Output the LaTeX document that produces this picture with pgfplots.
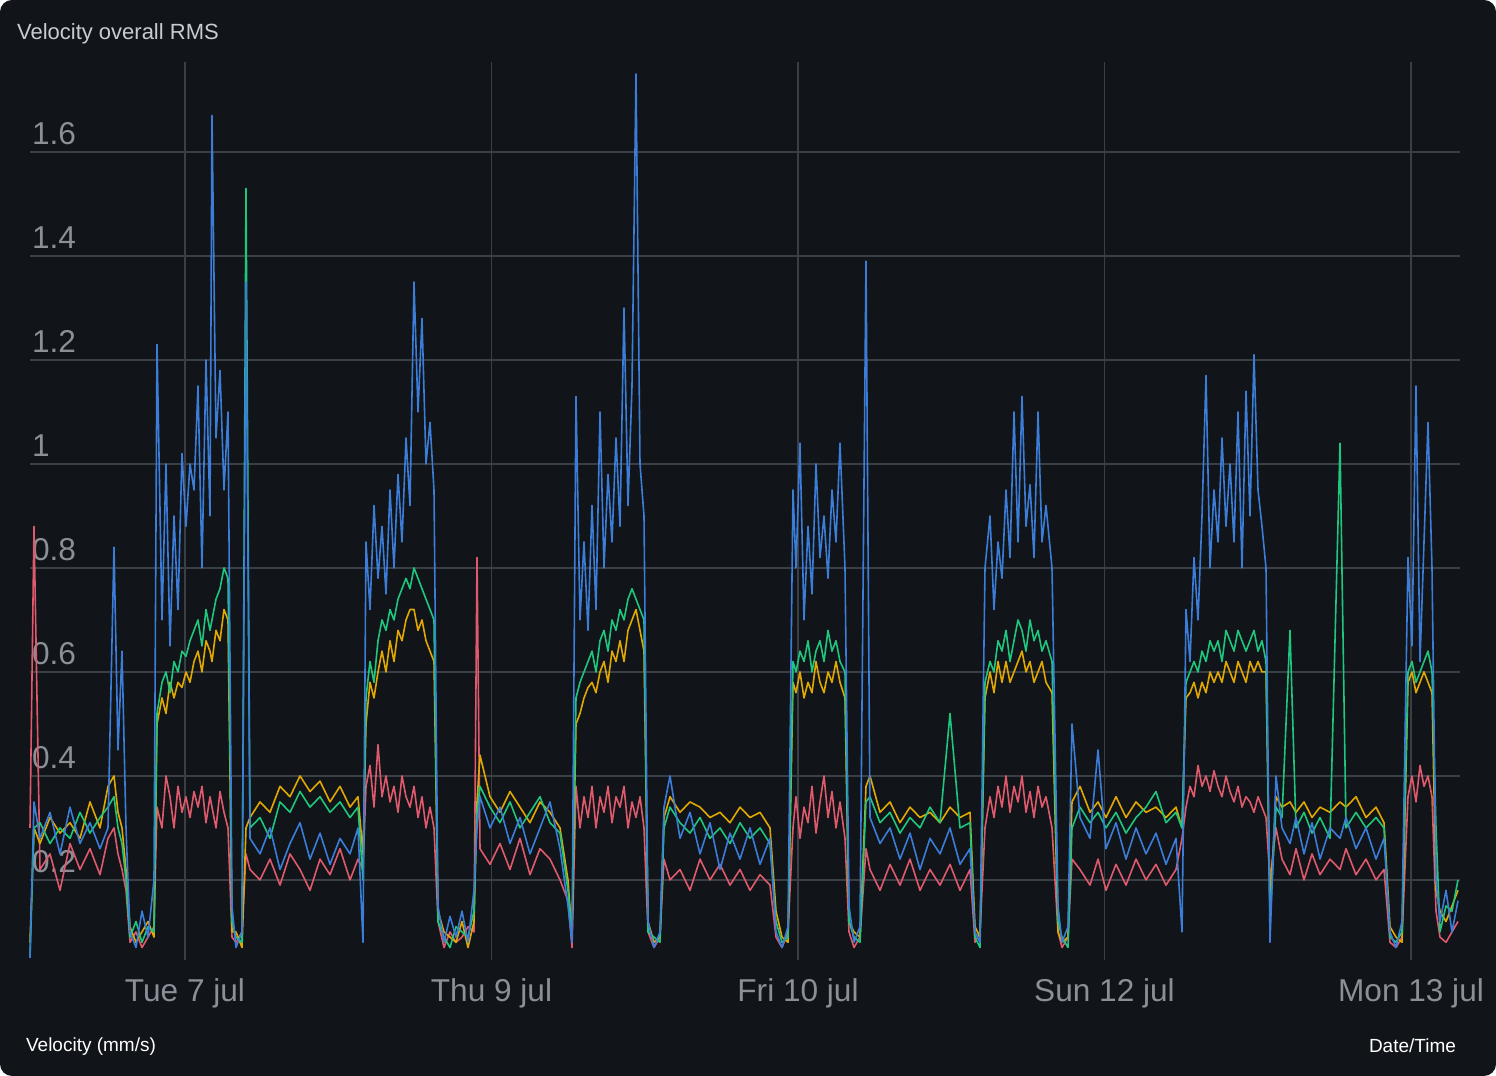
\documentclass[border=0pt]{standalone}
\usepackage{pgfplots}
\pgfplotsset{compat=1.18}
\usepackage{pgfplotstable}
\usepackage{fontspec}
\setmainfont{Liberation Sans}
\definecolor{bg}{HTML}{111418}
\definecolor{gridc}{HTML}{3A3E45}
\definecolor{tickc}{HTML}{8A8F98}
\definecolor{cblue}{HTML}{3B7DD8}
\definecolor{cgreen}{HTML}{1FC77E}
\definecolor{cyellow}{HTML}{E0A800}
\definecolor{cred}{HTML}{E05A6E}
\pgfplotstableread{
x b g yl r
30 0.05 0.05 0.08 0.30
34 0.35 0.30 0.30 0.88
40 0.28 0.31 0.27 0.22
50 0.33 0.27 0.32 0.25
60 0.25 0.30 0.29 0.18
70 0.34 0.28 0.31 0.27
80 0.27 0.33 0.28 0.22
90 0.31 0.29 0.35 0.26
100 0.26 0.32 0.30 0.21
108 0.30 0.34 0.38 0.28
114 0.84 0.36 0.40 0.30
118 0.45 0.30 0.33 0.25
122 0.64 0.27 0.30 0.22
126 0.30 0.20 0.22 0.18
130 0.10 0.09 0.11 0.08
136 0.07 0.12 0.08 0.10
142 0.14 0.08 0.10 0.07
148 0.09 0.11 0.12 0.09
154 0.20 0.10 0.09 0.11
157 1.23 0.52 0.50 0.34
162 0.70 0.58 0.55 0.30
166 1.00 0.60 0.52 0.40
170 0.65 0.56 0.58 0.36
174 0.90 0.62 0.55 0.30
178 0.72 0.60 0.58 0.38
182 1.02 0.64 0.57 0.33
186 0.88 0.63 0.60 0.36
190 1.00 0.66 0.58 0.32
194 0.95 0.68 0.62 0.37
198 1.15 0.70 0.64 0.34
202 0.80 0.65 0.60 0.38
206 1.20 0.72 0.66 0.31
210 0.90 0.68 0.64 0.36
212 1.67 0.70 0.62 0.34
216 1.05 0.74 0.68 0.30
220 1.18 0.76 0.66 0.37
224 0.95 0.80 0.72 0.33
228 1.10 0.78 0.70 0.30
232 0.15 0.12 0.10 0.09
236 0.07 0.09 0.10 0.08
242 0.10 0.08 0.07 0.10
246 1.35 1.53 0.30 0.25
250 0.28 0.30 0.32 0.22
260 0.25 0.32 0.35 0.20
270 0.30 0.28 0.33 0.24
280 0.22 0.35 0.38 0.19
290 0.27 0.33 0.36 0.25
300 0.31 0.37 0.40 0.22
310 0.24 0.34 0.37 0.18
320 0.29 0.36 0.39 0.24
330 0.23 0.33 0.35 0.21
340 0.28 0.35 0.38 0.26
350 0.25 0.32 0.34 0.20
358 0.30 0.34 0.36 0.24
363 0.08 0.20 0.25 0.22
366 0.85 0.55 0.50 0.38
370 0.72 0.62 0.58 0.42
374 0.92 0.58 0.55 0.34
378 0.78 0.66 0.60 0.46
382 0.88 0.70 0.64 0.36
386 0.75 0.68 0.60 0.40
390 0.95 0.72 0.66 0.35
394 0.80 0.70 0.62 0.38
398 0.98 0.74 0.68 0.33
402 0.85 0.76 0.66 0.40
406 1.05 0.78 0.70 0.36
410 0.92 0.76 0.72 0.34
414 1.35 0.80 0.72 0.38
418 1.10 0.78 0.68 0.32
422 1.28 0.76 0.70 0.36
426 1.00 0.74 0.66 0.30
430 1.08 0.72 0.64 0.34
434 0.95 0.70 0.62 0.30
438 0.15 0.12 0.14 0.12
444 0.08 0.09 0.10 0.07
450 0.13 0.07 0.09 0.10
456 0.09 0.11 0.08 0.08
462 0.14 0.10 0.12 0.09
468 0.08 0.09 0.07 0.11
474 0.18 0.14 0.12 0.10
477 0.30 0.33 0.35 0.82
480 0.36 0.38 0.44 0.26
490 0.30 0.34 0.36 0.23
500 0.34 0.31 0.33 0.27
510 0.27 0.35 0.37 0.22
520 0.32 0.30 0.34 0.28
530 0.25 0.33 0.31 0.21
540 0.30 0.36 0.35 0.26
550 0.35 0.31 0.33 0.24
560 0.26 0.29 0.30 0.20
568 0.15 0.18 0.20 0.16
572 0.08 0.10 0.09 0.07
576 1.13 0.55 0.50 0.38
580 0.70 0.58 0.52 0.30
584 0.85 0.60 0.55 0.36
588 0.68 0.62 0.57 0.32
592 0.92 0.64 0.58 0.38
596 0.72 0.60 0.56 0.30
600 1.10 0.66 0.60 0.36
604 0.80 0.68 0.62 0.33
608 0.98 0.64 0.58 0.38
612 0.85 0.70 0.64 0.31
616 1.05 0.68 0.62 0.36
620 0.88 0.72 0.66 0.34
624 1.30 0.70 0.62 0.38
628 0.92 0.74 0.68 0.30
632 1.15 0.76 0.70 0.35
636 1.75 0.74 0.72 0.32
640 1.00 0.72 0.68 0.36
644 0.90 0.70 0.64 0.30
648 0.12 0.10 0.12 0.10
654 0.07 0.09 0.08 0.07
660 0.10 0.08 0.09 0.09
664 0.34 0.30 0.32 0.24
670 0.40 0.34 0.36 0.20
680 0.28 0.31 0.33 0.22
690 0.33 0.29 0.35 0.18
700 0.25 0.32 0.34 0.24
710 0.31 0.28 0.32 0.20
720 0.22 0.30 0.33 0.23
730 0.29 0.27 0.31 0.19
740 0.24 0.31 0.34 0.22
750 0.30 0.28 0.32 0.18
760 0.23 0.30 0.33 0.21
770 0.28 0.27 0.30 0.19
776 0.10 0.12 0.14 0.09
782 0.07 0.08 0.09 0.07
788 0.11 0.09 0.08 0.10
793 0.95 0.62 0.58 0.30
796 0.80 0.60 0.56 0.36
800 1.04 0.64 0.60 0.28
804 0.70 0.62 0.55 0.34
808 0.88 0.66 0.58 0.31
812 0.75 0.60 0.56 0.38
816 1.00 0.64 0.62 0.29
820 0.82 0.66 0.58 0.35
824 0.90 0.62 0.56 0.40
828 0.78 0.68 0.60 0.32
832 0.95 0.64 0.58 0.37
836 0.85 0.66 0.62 0.30
840 1.04 0.62 0.58 0.35
845 0.80 0.60 0.55 0.28
849 0.15 0.12 0.12 0.10
854 0.08 0.09 0.10 0.07
860 0.11 0.08 0.09 0.09
866 1.39 0.35 0.38 0.26
870 0.32 0.36 0.40 0.22
880 0.27 0.31 0.33 0.18
890 0.30 0.33 0.35 0.23
900 0.24 0.29 0.31 0.19
910 0.29 0.32 0.34 0.24
920 0.22 0.30 0.32 0.18
930 0.28 0.34 0.33 0.22
940 0.25 0.31 0.31 0.19
950 0.30 0.52 0.34 0.23
960 0.23 0.30 0.32 0.18
970 0.26 0.31 0.33 0.22
975 0.10 0.09 0.11 0.08
980 0.08 0.07 0.09 0.10
985 0.80 0.58 0.55 0.30
990 0.90 0.62 0.60 0.36
994 0.72 0.60 0.56 0.32
998 0.85 0.66 0.62 0.38
1002 0.78 0.64 0.58 0.34
1006 0.95 0.68 0.62 0.40
1010 0.82 0.62 0.58 0.33
1014 1.10 0.66 0.60 0.38
1018 0.85 0.70 0.62 0.35
1022 1.13 0.68 0.64 0.40
1026 0.88 0.64 0.60 0.33
1030 0.96 0.70 0.62 0.37
1034 0.82 0.66 0.58 0.32
1038 1.10 0.68 0.60 0.38
1042 0.85 0.64 0.62 0.34
1046 0.92 0.66 0.58 0.36
1052 0.80 0.62 0.56 0.30
1058 0.15 0.12 0.10 0.10
1062 0.08 0.09 0.08 0.07
1068 0.11 0.07 0.09 0.09
1072 0.50 0.30 0.35 0.24
1080 0.32 0.34 0.38 0.22
1090 0.28 0.31 0.33 0.19
1098 0.45 0.33 0.35 0.24
1106 0.26 0.30 0.32 0.18
1116 0.31 0.33 0.36 0.23
1126 0.24 0.29 0.32 0.19
1136 0.30 0.32 0.35 0.24
1146 0.25 0.34 0.33 0.20
1156 0.29 0.37 0.34 0.23
1166 0.23 0.31 0.32 0.19
1176 0.28 0.33 0.34 0.22
1182 0.10 0.30 0.30 0.28
1186 0.72 0.58 0.55 0.34
1190 0.62 0.60 0.56 0.38
1194 0.82 0.62 0.58 0.36
1198 0.70 0.60 0.55 0.42
1202 0.90 0.64 0.58 0.38
1206 1.17 0.62 0.56 0.40
1210 0.80 0.66 0.60 0.37
1214 0.95 0.64 0.58 0.41
1218 0.85 0.66 0.60 0.38
1222 1.05 0.62 0.58 0.36
1226 0.88 0.68 0.62 0.40
1230 1.00 0.66 0.60 0.37
1234 0.85 0.64 0.58 0.35
1238 1.10 0.68 0.62 0.38
1242 0.80 0.66 0.60 0.34
1246 1.14 0.64 0.58 0.36
1250 0.90 0.66 0.62 0.35
1254 1.21 0.68 0.60 0.33
1258 0.95 0.64 0.62 0.36
1262 0.88 0.66 0.60 0.34
1266 0.80 0.62 0.60 0.32
1270 0.08 0.12 0.15 0.20
1276 0.40 0.34 0.36 0.30
1282 0.30 0.32 0.34 0.24
1290 0.27 0.68 0.35 0.21
1296 0.32 0.30 0.33 0.26
1304 0.25 0.33 0.35 0.20
1312 0.31 0.29 0.32 0.25
1320 0.24 0.32 0.34 0.21
1330 0.30 0.28 0.33 0.24
1340 0.28 1.04 0.35 0.22
1346 0.32 0.30 0.34 0.26
1356 0.26 0.33 0.36 0.21
1366 0.30 0.30 0.32 0.24
1376 0.24 0.32 0.34 0.20
1384 0.28 0.30 0.31 0.22
1390 0.10 0.09 0.11 0.08
1396 0.07 0.08 0.09 0.07
1402 0.12 0.10 0.08 0.09
1408 0.82 0.60 0.58 0.36
1412 0.65 0.62 0.60 0.40
1416 1.15 0.58 0.56 0.35
1420 0.62 0.60 0.58 0.42
1424 0.85 0.62 0.60 0.38
1428 1.08 0.64 0.58 0.40
1432 0.80 0.60 0.56 0.36
1436 0.20 0.30 0.18 0.14
1440 0.12 0.10 0.14 0.09
1446 0.18 0.15 0.12 0.08
1452 0.10 0.14 0.15 0.10
1458 0.16 0.20 0.18 0.12
}\data
\begin{document}
\begin{tikzpicture}
\fill[bg, rounded corners=6pt] (0,0) rectangle (748pt,538pt);
\useasboundingbox (0,0) rectangle (748pt,538pt);
\begin{axis}[
  at={(15pt,58pt)}, anchor=south west,
  scale only axis, width=715pt, height=449pt,
  xmin=30, xmax=1460, ymin=0.046, ymax=1.773,
  axis line style={draw=none},
  major tick length=0pt,
  grid=major, grid style={gridc, line width=0.6pt},
  xtick={185,491.5,798,1104.5,1411},
  xticklabels={Tue 7 jul, Thu 9 jul, Fri 10 jul, Sun 12 jul, Mon 13 jul},
  ytick={0.2,0.4,0.6,0.8,1,1.2,1.4,1.6},
  yticklabels={0.2,0.4,0.6,0.8,1,1.2,1.4,1.6},
  tick label style={font=\fontsize{15.8}{18}\selectfont, text=tickc},
  yticklabel style={anchor=south west, xshift=-2.5pt, yshift=0pt},
  xticklabel style={yshift=-6pt},
  clip=false,
  every axis plot/.append style={line width=0.8pt, line join=round},
]
\addplot[cred, no marks] table[x=x,y=r]{\data};
\addplot[cyellow, no marks] table[x=x,y=yl]{\data};
\addplot[cgreen, no marks] table[x=x,y=g]{\data};
\addplot[cblue, no marks] table[x=x,y=b]{\data};
\end{axis}
\node[anchor=west, text={rgb,255:red,200;green,203;blue,208}, font=\fontsize{11}{13}\selectfont] at (5pt,521pt) {Velocity overall RMS};
\node[anchor=west, text=white, font=\fontsize{9.5}{11}\selectfont] at (9.5pt,14.5pt) {Velocity (mm/s)};
\node[anchor=east, text=white, font=\fontsize{9.5}{11}\selectfont] at (731.5pt,15pt) {Date/Time};
\end{tikzpicture}
\end{document}
